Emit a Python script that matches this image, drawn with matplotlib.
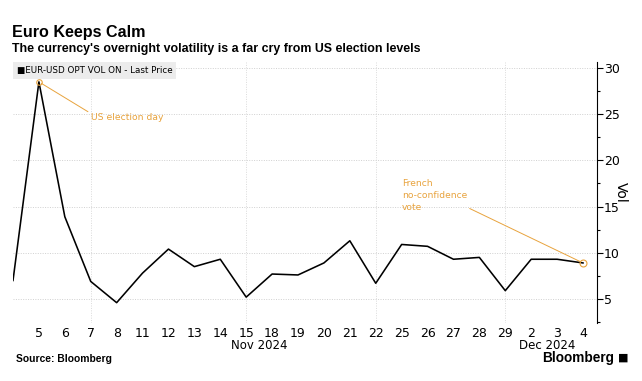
import numpy as np
import matplotlib.pyplot as plt
from matplotlib.ticker import MultipleLocator

# EUR-USD overnight option vol, Nov 4 - Dec 4 2024 (trading days)
day_labels = ["", "5", "6", "7", "8", "11", "12", "13", "14", "15", "18", "19", "20",
              "21", "22", "25", "26", "27", "28", "29", "2", "3", "4"]
vol = [7.0, 28.5, 13.9, 6.9, 4.6, 7.8, 10.4, 8.5, 9.3, 5.2, 7.7, 7.6, 8.9,
       11.3, 6.7, 10.9, 10.7, 9.3, 9.5, 5.9, 9.3, 9.3, 8.9]
week_ends = [3, 9, 14, 19]  # Fridays -> vertical gridlines

orange = "#e8a33d"
plt.rcParams['font.family'] = ['DejaVu Sans']
head = ['Liberation Sans', 'DejaVu Sans']

fig = plt.figure(figsize=(6.42, 3.81), dpi=100)
ax = fig.add_axes([13/642, 58/381, 584/642, 261/381])

x = np.arange(len(vol))
ax.plot(x, vol, color="black", lw=1.15, zorder=3)

ax.set_xlim(0, 22.54)
ax.set_ylim(2.4, 30.65)

ax.yaxis.tick_right()
ax.yaxis.set_label_position("right")
ax.set_yticks([5, 10, 15, 20, 25, 30])
ax.yaxis.set_minor_locator(MultipleLocator(2.5))
ax.tick_params(axis="y", which="major", length=4, width=0.8, labelsize=9, pad=1)
ax.tick_params(axis="y", which="minor", length=2, width=0.8)
ax.set_ylabel("Vol", rotation=270, fontsize=10, labelpad=6)

ax.set_xticks(x)
ax.set_xticklabels(day_labels)
ax.tick_params(axis="x", length=0, labelsize=9, pad=3)

for s in ["top", "left", "bottom"]:
    ax.spines[s].set_visible(False)
ax.spines["right"].set_linewidth(0.8)

ax.grid(axis="y", color="#d0d0d0", lw=0.7, ls=(0, (1, 1.5)))
for w in week_ends:
    ax.axvline(w, color="#dadada", lw=0.7, ls=(0, (1, 1.5)), zorder=1)

# month labels
ax.text(9.5, -0.06, "Nov 2024", transform=ax.get_xaxis_transform(),
        ha="center", va="top", fontsize=8.5)
ax.text(20.6, -0.06, "Dec 2024", transform=ax.get_xaxis_transform(),
        ha="center", va="top", fontsize=8.5)

# legend box
ax.text(0.006, 0.985, "\u25a0EUR-USD OPT VOL ON - Last Price", transform=ax.transAxes,
        ha="left", va="top", fontsize=6.3,
        bbox=dict(boxstyle="square,pad=0.45", fc="#ececec", ec="none"))

# annotations
ax.plot(1, vol[1], "o", mfc="none", mec=orange, ms=4, mew=0.8, zorder=4)
ax.annotate("US election day", xy=(1, vol[1]), xytext=(3.0, 24.6),
            color=orange, fontsize=6.7, ha="left", va="center",
            arrowprops=dict(arrowstyle="-", color=orange, lw=0.7, shrinkA=0, shrinkB=2,
                            relpos=(0.0, 1.0)))
ax.plot(22, vol[22], "o", mfc="none", mec=orange, ms=5, mew=0.8, zorder=4)
ax.annotate("French\nno-confidence\nvote", xy=(22, vol[22]), xytext=(15.0, 16.2),
            color=orange, fontsize=6.6, ha="left", va="center", linespacing=1.45,
            arrowprops=dict(arrowstyle="-", color=orange, lw=0.7, shrinkA=0, shrinkB=2,
                            relpos=(1.0, 0.15)))

fig.text(12/642, 1 - 32/381, "Euro Keeps Calm", fontsize=11.6, fontweight="bold",
         va="center", family=head)
fig.text(12/642, 1 - 49/381, "The currency's overnight volatility is a far cry from US election levels",
         fontsize=8.9, fontweight="bold", va="center", family=head)
fig.text(16/642, 1 - 359/381, "Source: Bloomberg", fontsize=7.4, fontweight="bold",
         va="center", family=head)
fig.text(614/642, 1 - 358/381, "Bloomberg", fontsize=9.8, fontweight="bold", va="center",
         ha="right", family=head)
fig.text(618/642, 1 - 358/381, "\u25a0", fontsize=8, va="center", ha="left")

fig.savefig("out.png", dpi=100)
